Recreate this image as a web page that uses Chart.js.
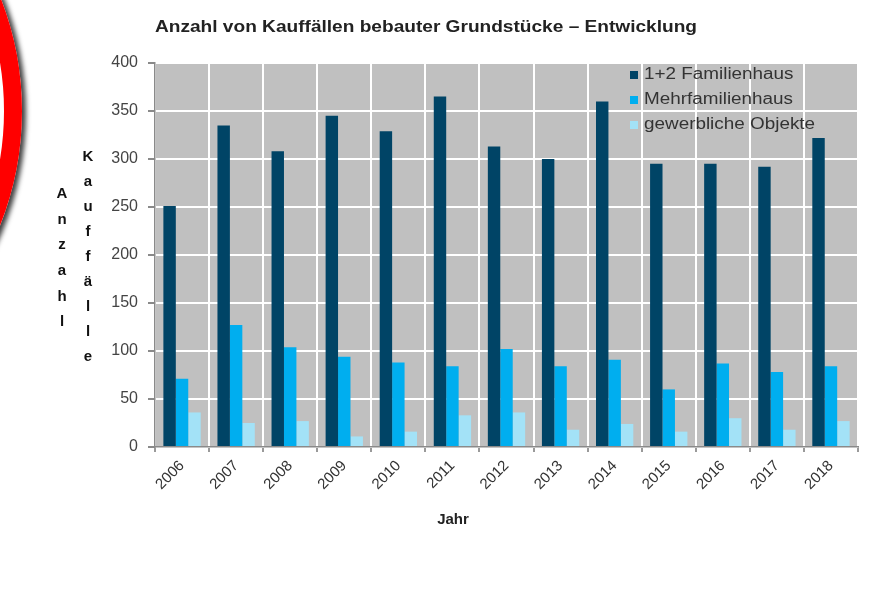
<!DOCTYPE html>
<html>
<head>
<meta charset="utf-8">
<script src="https://cdn.jsdelivr.net/npm/chart.js@4.4.1/dist/chart.umd.min.js"></script>
<style>
  html, body { margin: 0; padding: 0; background: #ffffff; overflow: hidden; }
  #wrap { position: relative; width: 876px; height: 595px; overflow: hidden; }
  #ring { position: absolute; left: -598px; top: -199px; width: 620px; height: 620px; box-sizing: border-box;
          border: 18px solid #ff0000; border-radius: 50%; box-shadow: 4px 2px 5px rgba(0,0,0,0.75); }
  #c { position: absolute; left: 0; top: 0; }
</style>
</head>
<body>
<div id="wrap">
  <div id="ring"></div>
  <canvas id="c" width="876" height="595"></canvas>
</div>
<script>
const titleText = 'Anzahl von Kauffällen bebauter Grundstücke – Entwicklung';
const xTitle = 'Jahr';
const yTitleA = 'Anzahl';
const yTitleB = 'Kauffälle';
const years = ['2006','2007','2008','2009','2010','2011','2012','2013','2014','2015','2016','2017','2018'];
const seriesNames = ['1+2 Familienhaus', 'Mehrfamilienhaus', 'gewerbliche Objekte'];
const familienhaus = [251, 335, 308, 345, 329, 365, 313, 300, 360, 295, 295, 292, 322];
const mehrfamilienhaus = [71, 127, 104, 94, 88, 84, 102, 84, 91, 60, 87, 78, 84];
const gewerblich = [36, 25, 27, 11, 16, 33, 36, 18, 24, 16, 30, 18, 27];
const yTicks = [0, 50, 100, 150, 200, 250, 300, 350, 400];
const colors = ['#004466', '#00aeef', '#a3e2f7'];

const FONT = '"Liberation Sans", Arial, Helvetica, sans-serif';

const decor = {
  id: 'decor',
  beforeDraw(chart) {
    const { ctx, chartArea: a } = chart;
    ctx.save();
    ctx.fillStyle = '#c0c0c0';
    ctx.fillRect(a.left, a.top, a.right - a.left, a.bottom - a.top);
    ctx.restore();
  },
  afterDraw(chart) {
    const { ctx, chartArea: a } = chart;
    ctx.save();
    // title
    ctx.font = 'bold 16px ' + FONT;
    ctx.fillStyle = '#222';
    ctx.textBaseline = 'middle';
    ctx.textAlign = 'left';
    const w = ctx.measureText(titleText).width;
    const sx = 542 / w;
    ctx.save();
    ctx.translate(a.left, 28);
    ctx.scale(sx, 1);
    ctx.fillText(titleText, 0, 0);
    ctx.restore();
    // x title
    ctx.font = 'bold 15px ' + FONT;
    ctx.textAlign = 'center';
    ctx.fillStyle = '#222';
    ctx.fillText(xTitle, 453, 520);
    // y title stacked letters
    ctx.font = 'bold 15px ' + FONT;
    ctx.fillStyle = '#111';
    [...yTitleA].forEach((ch, i) => ctx.fillText(ch, 62, 194 + i * 25.6));
    [...yTitleB].forEach((ch, i) => ctx.fillText(ch, 88, 157 + i * 25));
    // legend inside plot
    ctx.font = '16px ' + FONT;
    ctx.textAlign = 'left';
    chart.data.datasets.forEach((ds, i) => {
      const y = 75 + i * 25;
      ctx.fillStyle = ds.backgroundColor;
      ctx.fillRect(630, y - 4, 8, 8);
      ctx.fillStyle = '#333';
      ctx.save();
      ctx.translate(644, y);
      ctx.scale(1.18, 1);
      ctx.fillText(ds.label, 0, 0);
      ctx.restore();
    });
    ctx.restore();
  }
};

new Chart(document.getElementById('c'), {
  type: 'bar',
  data: {
    labels: years,
    datasets: [
      { label: seriesNames[0], data: familienhaus, backgroundColor: colors[0] },
      { label: seriesNames[1], data: mehrfamilienhaus, backgroundColor: colors[1] },
      { label: seriesNames[2], data: gewerblich, backgroundColor: colors[2] }
    ]
  },
  options: {
    responsive: false,
    animation: false,
    events: [],
    layout: { padding: { left: 100, right: 18, top: 63, bottom: 60 } },
    datasets: { bar: { categoryPercentage: 0.69, barPercentage: 1.0 } },
    plugins: { legend: { display: false }, title: { display: false }, tooltip: { enabled: false } },
    scales: {
      x: {
        grid: { offset: true, color: '#ffffff', lineWidth: 2, tickColor: '#9a9a9a', tickLength: 5, drawTicks: true },
        border: { color: '#8a8a8a', width: 1.5 },
        ticks: { minRotation: 45, maxRotation: 45, autoSkip: false, padding: 5, color: '#333', font: { family: FONT, size: 15 } },
        afterFit(s) { s.height = 88; }
      },
      y: {
        min: 0, max: 400,
        afterBuildTicks(s) { s.ticks = yTicks.map(v => ({ value: v })); },
        grid: { color: '#ffffff', lineWidth: 2, tickColor: '#8a8a8a', tickLength: 7 },
        border: { color: '#8a8a8a', width: 1.5 },
        ticks: { padding: 10, color: '#444', font: { family: FONT, size: 16 } },
        afterFit(s) { s.width = 55; }
      }
    }
  },
  plugins: [decor]
});
</script>
</body>
</html>
